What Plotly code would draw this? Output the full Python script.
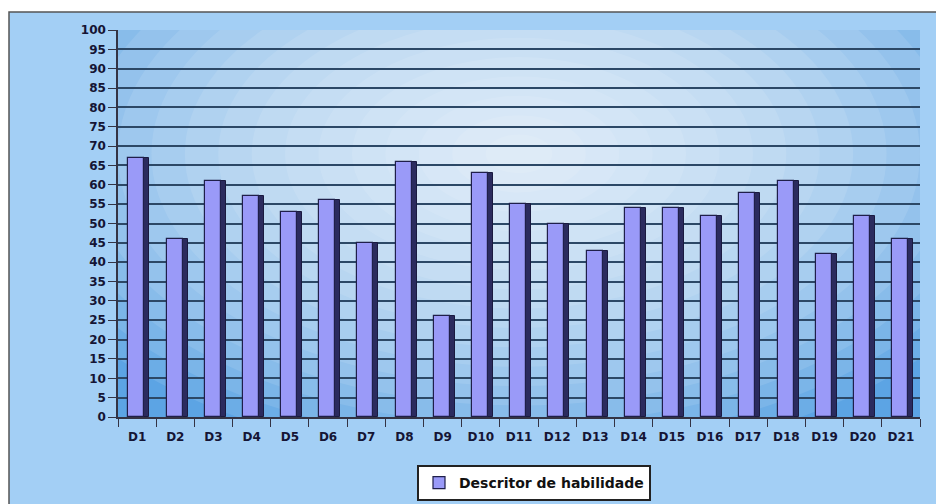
import plotly.graph_objects as go

categories = ["D1", "D2", "D3", "D4", "D5", "D6", "D7", "D8", "D9", "D10", "D11",
              "D12", "D13", "D14", "D15", "D16", "D17", "D18", "D19", "D20", "D21"]
values = [67, 46, 61, 57, 53, 56, 45, 66, 26, 63, 55, 50, 43, 54, 54, 52, 58, 61, 42, 52, 46]
series_name = "Descritor de habilidade"
y_ticks = list(range(0, 101, 5))

L, R, T, B = 118, 16, 30, 87
W, H = 936, 504
pw, ph = W - L - R, H - T - B


def px_x(p):
    return (p - L) / pw


def px_y(p):
    return (H - B - p) / ph


fig = go.Figure()

# side face (3D look)
fig.add_trace(go.Bar(
    x=categories, y=values, width=0.13, offset=0.19,
    marker=dict(color="#2b2b5e", line=dict(color="#1a1a40", width=1)),
    showlegend=False, hoverinfo="skip"))
# front face
fig.add_trace(go.Bar(
    x=categories, y=values, width=0.42, offset=-0.23, name=series_name,
    marker=dict(color="#9a9af8", line=dict(color="#1f1f4a", width=1.2))))

shapes = []
# outer chart area (light blue with dark top/left border)
shapes.append(dict(type="rect", xref="paper", yref="paper",
                   x0=px_x(9), x1=px_x(990), y0=px_y(560), y1=px_y(12),
                   fillcolor="#a3cff5", line=dict(color="#555555", width=1.5), layer="below"))
# plot area base colour
shapes.append(dict(type="rect", xref="x", yref="y", x0=-0.5, x1=20.5, y0=0, y1=100,
                   fillcolor="#5ca4e4", line=dict(width=0), layer="below"))
# radial gradient
n = 16
for i in range(n):
    f = 1 - i / n
    shapes.append(dict(type="circle", xref="x", yref="y",
                       x0=10 - 14 * f, x1=10 + 14 * f,
                       y0=68 - 80 * f, y1=68 + 80 * f,
                       fillcolor="white", opacity=0.10, line=dict(width=0), layer="below"))

tick_font = dict(family="DejaVu Sans", size=12, color="#151535", weight="bold")

fig.update_layout(
    width=W, height=H,
    margin=dict(l=L, r=R, t=T, b=B, autoexpand=False),
    paper_bgcolor="white",
    plot_bgcolor="#5ca4e4",
    barmode="overlay",
    bargap=0.0,
    shapes=shapes,
    font=dict(family="DejaVu Sans", color="#111133", size=12, weight="bold"),
    showlegend=True,
    legend=dict(orientation="h", x=px_x(534), xanchor="center", y=px_y(465), yanchor="top",
                bgcolor="white", bordercolor="#222222", borderwidth=2,
                font=dict(family="DejaVu Sans", size=14, color="#111111", weight="bold"),
                itemwidth=30),
)
fig.update_xaxes(
    type="category", range=[-0.5, 20.5], automargin=False,
    showline=True, linecolor="#333344", linewidth=1.5,
    ticks="outside", tickson="boundaries", ticklen=8, tickcolor="#333344",
    ticklabelstandoff=8,
    tickfont=tick_font,
    showgrid=False)
fig.update_yaxes(
    range=[0, 100], tickvals=y_ticks, automargin=False,
    showline=True, linecolor="#333344", linewidth=1.5,
    ticks="outside", ticklen=8, tickcolor="#333344",
    tickfont=tick_font,
    showgrid=True, gridcolor="#2c4866", gridwidth=2, zeroline=False)

fig.write_html("out.html")
